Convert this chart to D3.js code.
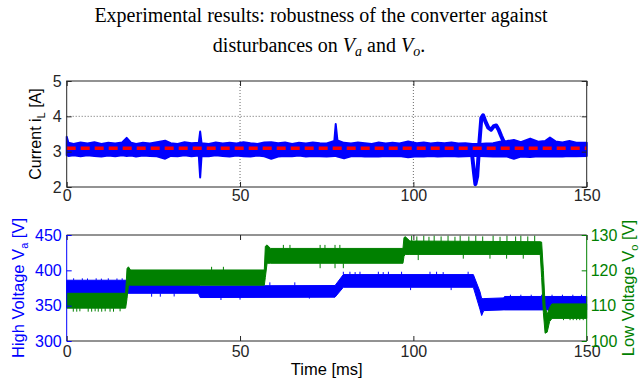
<!DOCTYPE html>
<html>
<head>
<meta charset="utf-8">
<script src="https://cdn.jsdelivr.net/npm/d3@7"></script>
<style>
  body { margin: 0; background: #fff; }
  text { font-family: "Liberation Sans", Arial, sans-serif; }
</style>
</head>
<body>
<svg id="chart" width="639" height="381"></svg>
<script>
// tick values
const timeTicks = [0, 50, 100, 150];
const currentTicks = [2, 3, 4, 5];
const highTicks = [300, 350, 400, 450];
const lowTicks = [100, 110, 120, 130];

// reference current [A]
const iRef = 3.1;

// inductor current envelope: [t ms, min A, max A]
const currentBand = [
  [0, 2.9, 3.42], [0.5, 2.88, 3.25], [2, 2.9, 3.22], [4, 2.87, 3.26], [6, 2.9, 3.23],
  [8, 2.88, 3.27], [10, 2.86, 3.22], [12, 2.89, 3.25], [14, 2.87, 3.23], [16, 2.9, 3.26],
  [17.3, 2.88, 3.39], [18.6, 2.89, 3.25], [20, 2.86, 3.22], [22, 2.89, 3.25], [24, 2.88, 3.23],
  [26, 2.87, 3.27], [28.4, 2.8, 3.31], [30, 2.88, 3.24], [32, 2.87, 3.22], [34, 2.9, 3.27],
  [36, 2.87, 3.24], [38.1, 2.89, 3.25], [38.5, 2.27, 3.57], [38.9, 2.88, 3.24], [41, 2.87, 3.22],
  [43, 2.9, 3.26], [45, 2.88, 3.23], [47, 2.86, 3.25], [49, 2.89, 3.23], [51, 2.87, 3.27],
  [53, 2.86, 3.24], [55, 2.89, 3.22], [57, 2.87, 3.26], [59, 2.8, 3.27], [61, 2.86, 3.24],
  [63, 2.88, 3.26], [65, 2.87, 3.22], [67, 2.89, 3.25], [69, 2.86, 3.23], [71, 2.88, 3.26],
  [73, 2.87, 3.24], [75, 2.86, 3.23], [77.2, 2.88, 3.3], [77.6, 2.88, 3.78], [78.1, 2.86, 3.32],
  [80, 2.81, 3.25], [82, 2.87, 3.23], [84, 2.88, 3.26], [86, 2.86, 3.24], [88, 2.87, 3.22],
  [90, 2.86, 3.26], [92, 2.88, 3.23], [94, 2.87, 3.25], [96, 2.88, 3.23], [98.5, 2.84, 3.29],
  [101, 2.87, 3.24], [103, 2.86, 3.26], [105, 2.88, 3.23], [107, 2.86, 3.25], [109, 2.87, 3.24],
  [111, 2.88, 3.26], [113, 2.86, 3.23], [115, 2.87, 3.24], [117, 2.88, 3.22], [119, 2.88, 3.22],
  [121, 2.87, 3.23], [123, 2.86, 3.24], [125, 2.87, 3.28], [127, 2.86, 3.3], [129, 2.8, 3.33],
  [131, 2.86, 3.27], [133.7, 2.85, 3.37], [136, 2.87, 3.28], [138, 2.86, 3.3], [139.4, 2.86, 3.4],
  [141, 2.87, 3.29], [143, 2.86, 3.26], [145, 2.88, 3.3], [147, 2.87, 3.25], [150, 2.88, 3.25]
];

// load step transient of the current: [t ms, A]
const currentTransient = [
  [116.8, 3.05], [117.5, 2.4], [117.9, 2.08], [118.4, 2.3], [119.0, 3.2], [119.6, 3.95],
  [120.1, 4.03], [120.8, 3.85], [121.6, 3.68], [122.4, 3.62], [123.2, 3.72], [123.9, 3.74],
  [124.6, 3.62], [125.3, 3.45], [126.2, 3.25]
];

// high voltage Va envelope: [t ms, min V, max V]
const highBand = [
  [0, 367.5, 386], [17.2, 367.5, 386], [17.6, 367.5, 380], [38, 367.5, 379],
  [38.5, 361.5, 378], [77.4, 362, 378.5], [79.8, 376, 394], [117.3, 376, 394],
  [119.2, 345, 370], [119.7, 336, 360], [120.3, 343, 360], [126, 344, 361],
  [126.3, 344, 363], [150, 344, 363]
];
// isolated spikes on Va: [t ms, from V, to V]
const highSpikes = [
  [2, 386, 388.7], [4.5, 386, 388.7], [6, 386, 388.5], [8.5, 386, 388.7], [10, 386, 388.3],
  [12, 386, 388.7], [14.5, 386, 388.5], [16, 386, 388.7],
  [24.5, 367.5, 362.7], [27, 367.5, 362.7], [31, 367.5, 363],
  [44.5, 362, 358], [50, 362, 358.5], [58.6, 378.5, 383], [65.8, 378.5, 383], [70, 362, 360],
  [79.8, 394, 398], [81.7, 394, 398], [83.2, 394, 397.5], [84.6, 394, 398], [89.9, 394, 398],
  [91.3, 394, 397.5], [92.8, 394, 398], [96.6, 394, 398], [104.8, 394, 398], [106.7, 394, 398],
  [108.6, 394, 397.5], [115.8, 394, 398], [99.2, 376, 372], [110.9, 376, 372],
  [128, 363, 365.5], [131, 363, 365.5], [134, 363, 365.5], [137, 363, 365.5],
  [140, 363, 365.5], [143, 363, 365.5], [146, 363, 365.5], [148.5, 363, 365.5]
];

// low voltage Vo envelope: [t ms, min V, max V]
const lowBand = [
  [0, 109.3, 113.5], [17.0, 109.3, 113.5], [17.4, 112, 120.5], [17.8, 115.8, 121.0],
  [18.4, 115.8, 120.1], [57.0, 115.8, 120.1], [57.3, 118, 126.8], [57.8, 122, 127.2],
  [58.8, 122, 126.2], [97.0, 122, 126.2], [97.3, 124, 129.3], [97.7, 124.5, 129.5],
  [99, 124.5, 128.3], [136.6, 124.5, 128.1], [137.0, 118, 128], [137.5, 108, 120],
  [138.0, 102.2, 110], [138.6, 102.5, 107.5], [139.3, 105.5, 109.5], [140.0, 106.4, 110.5],
  [150, 106.4, 110.5]
];
// isolated spikes on Vo: [t ms, from V, to V]
const lowSpikes = [
  [1.9, 109.3, 108.3], [2.9, 109.3, 108.3], [3.8, 109.3, 108.4], [6.2, 109.3, 108.3],
  [7.2, 109.3, 108.3], [8.2, 109.3, 108.4], [9.1, 109.3, 108.3], [10.1, 109.3, 108.3],
  [11.1, 109.3, 108.4], [12.5, 109.3, 108.3], [13.5, 109.3, 108.3], [15.4, 109.3, 108.4],
  [41.8, 120.1, 121], [45.2, 120.1, 121],
  [62.5, 126.2, 127.2], [64.4, 126.2, 127.2], [73.1, 126.2, 127.2], [74.5, 126.2, 127.2],
  [77.4, 126.2, 127.2], [78.8, 126.2, 127.2], [73.1, 122, 120.6], [77.4, 122, 120.6],
  [79.8, 122, 120.6],
  [99.5, 128.1, 129.8], [101, 128.1, 129.6], [103, 128.1, 129.8], [104.5, 128.1, 129.5],
  [106, 128.1, 129.8], [108, 128.1, 129.6], [110, 128.1, 129.8], [112, 128.1, 129.5],
  [113.5, 128.1, 129.8], [116, 128.1, 129.6], [118, 128.1, 129.8], [120, 128.1, 129.6],
  [123, 128.1, 129.8], [125, 128.1, 129.5], [127, 128.1, 129.8], [129.5, 128.1, 129.6],
  [131, 128.1, 129.8], [133, 128.1, 129.6], [135, 128.1, 129.8],
  [101.4, 124.5, 122.9], [114.4, 124.5, 123.3], [122.1, 124.5, 123.3], [126.9, 124.5, 123.3],
  [131.7, 124.5, 123.3],
  [143.3, 106.4, 105.9], [145.2, 106.4, 105.9], [146.1, 106.4, 105.9], [147.1, 106.4, 105.9],
  [148, 106.4, 105.9], [149, 106.4, 105.9]
];

const blue = '#0000ff';
const green = '#008000';
const red = '#ff0000';
const axisColor = '#262626';

const left = 66.7;
const right = 586.7;
const top1 = 81, bottom1 = 187;
const top2 = 235, bottom2 = 341;

const svg = d3.select('#chart');

const x = d3.scaleLinear().domain([0, 150]).range([left, right]);
const yCur = d3.scaleLinear().domain([2, 5]).range([bottom1, top1]);
const yHigh = d3.scaleLinear().domain([300, 450]).range([bottom2, top2]);
const yLow = d3.scaleLinear().domain([100, 130]).range([bottom2, top2]);
const fmt = d3.format('d');

// title
const title = svg.append('g')
  .attr('font-size', 20)
  .attr('fill', '#000')
  .attr('text-anchor', 'middle');
title.append('text')
  .style('font-family', '"Liberation Serif", "Times New Roman", serif')
  .attr('x', 321).attr('y', 22)
  .text('Experimental results: robustness of the converter against');
const t2 = title.append('text')
  .style('font-family', '"Liberation Serif", "Times New Roman", serif')
  .attr('x', 319).attr('y', 52);
t2.append('tspan').text('disturbances on ');
t2.append('tspan').attr('font-style', 'italic').text('V');
t2.append('tspan').attr('font-style', 'italic').attr('font-size', 14).attr('dy', 4).text('a');
t2.append('tspan').attr('dy', -4).text(' and ');
t2.append('tspan').attr('font-style', 'italic').text('V');
t2.append('tspan').attr('font-style', 'italic').attr('font-size', 14).attr('dy', 4).text('o');
t2.append('tspan').attr('dy', -4).text('.');

function styleAxis(g, color) {
  g.select('.domain').remove();
  g.selectAll('.tick line').attr('stroke', color);
  g.selectAll('.tick text').attr('fill', color).attr('font-size', 16)
    .style('font-family', '"Liberation Sans", Arial, sans-serif');
}

// ---------- top panel: current ----------
const p1 = svg.append('g');

// grid
p1.append('g').selectAll('line')
  .data([50, 100])
  .enter().append('line')
  .attr('x1', (d) => x(d)).attr('x2', (d) => x(d))
  .attr('y1', top1).attr('y2', bottom1)
  .attr('stroke', '#444').attr('stroke-width', 0.8).attr('stroke-dasharray', '1,2');
p1.append('g').selectAll('line')
  .data([3, 4])
  .enter().append('line')
  .attr('x1', left).attr('x2', right)
  .attr('y1', (d) => yCur(d)).attr('y2', (d) => yCur(d))
  .attr('stroke', '#444').attr('stroke-width', 0.8).attr('stroke-dasharray', '1,2');

const bandCur = d3.area()
  .x((d) => x(d[0]))
  .y0((d) => yCur(d[1]))
  .y1((d) => yCur(d[2]));
p1.append('path')
  .datum(currentBand)
  .attr('d', bandCur)
  .attr('fill', blue)
  .attr('stroke', blue)
  .attr('stroke-width', 2)
  .attr('stroke-linejoin', 'round');
p1.append('path')
  .datum(currentTransient)
  .attr('d', d3.line().x((d) => x(d[0])).y((d) => yCur(d[1])))
  .attr('fill', 'none')
  .attr('stroke', blue)
  .attr('stroke-width', 4)
  .attr('stroke-linejoin', 'round');

p1.append('line')
  .attr('x1', x(0)).attr('x2', x(150))
  .attr('y1', yCur(iRef)).attr('y2', yCur(iRef))
  .attr('stroke', red).attr('stroke-width', 3.5).attr('stroke-dasharray', '9,5');

p1.append('rect')
  .attr('x', left).attr('y', top1)
  .attr('width', right - left).attr('height', bottom1 - top1)
  .attr('fill', 'none').attr('stroke', axisColor).attr('stroke-width', 1);

p1.append('g')
  .attr('transform', 'translate(0,' + bottom1 + ')')
  .call(d3.axisBottom(x).tickValues(timeTicks).tickFormat(fmt).tickSize(-5).tickPadding(3))
  .call((g) => styleAxis(g, axisColor));
p1.append('g')
  .attr('transform', 'translate(0,' + top1 + ')')
  .call(d3.axisTop(x).tickValues(timeTicks).tickSize(-5).tickFormat(''))
  .call((g) => styleAxis(g, axisColor));
p1.append('g')
  .attr('transform', 'translate(' + left + ',0)')
  .call(d3.axisLeft(yCur).tickValues(currentTicks).tickFormat(fmt).tickSize(-5).tickPadding(5))
  .call((g) => styleAxis(g, axisColor));
p1.append('g')
  .attr('transform', 'translate(' + right + ',0)')
  .call(d3.axisRight(yCur).tickValues(currentTicks).tickSize(-5).tickFormat(''))
  .call((g) => styleAxis(g, axisColor));

const lab1 = p1.append('text')
  .attr('transform', 'translate(41,' + ((top1 + bottom1) / 2) + ') rotate(-90)')
  .attr('text-anchor', 'middle')
  .attr('font-size', 16)
  .attr('fill', '#000');
lab1.append('tspan').text('Current  i');
lab1.append('tspan').attr('font-size', 11).attr('dy', 4).text('L');
lab1.append('tspan').attr('dy', -4).text(' [A]');

// ---------- bottom panel: voltages ----------
const p2 = svg.append('g');

p2.append('path')
  .datum(highBand)
  .attr('d', d3.area().x((d) => x(d[0])).y0((d) => yHigh(d[1])).y1((d) => yHigh(d[2])))
  .attr('fill', blue).attr('stroke', blue).attr('stroke-width', 1);
p2.append('g').selectAll('line')
  .data(highSpikes)
  .enter().append('line')
  .attr('x1', (d) => x(d[0])).attr('x2', (d) => x(d[0]))
  .attr('y1', (d) => yHigh(d[1])).attr('y2', (d) => yHigh(d[2]))
  .attr('stroke', blue).attr('stroke-width', 1);

p2.append('path')
  .datum(lowBand)
  .attr('d', d3.area().x((d) => x(d[0])).y0((d) => yLow(d[1])).y1((d) => yLow(d[2])))
  .attr('fill', green).attr('stroke', green).attr('stroke-width', 1);
p2.append('g').selectAll('line')
  .data(lowSpikes)
  .enter().append('line')
  .attr('x1', (d) => x(d[0])).attr('x2', (d) => x(d[0]))
  .attr('y1', (d) => yLow(d[1])).attr('y2', (d) => yLow(d[2]))
  .attr('stroke', green).attr('stroke-width', 1);

// frame: top and bottom black, left blue, right green
p2.append('line').attr('x1', left).attr('x2', right).attr('y1', top2).attr('y2', top2)
  .attr('stroke', axisColor);
p2.append('line').attr('x1', left).attr('x2', right).attr('y1', bottom2).attr('y2', bottom2)
  .attr('stroke', axisColor);
p2.append('line').attr('x1', left).attr('x2', left).attr('y1', top2).attr('y2', bottom2)
  .attr('stroke', blue);
p2.append('line').attr('x1', right).attr('x2', right).attr('y1', top2).attr('y2', bottom2)
  .attr('stroke', green);

p2.append('g')
  .attr('transform', 'translate(0,' + bottom2 + ')')
  .call(d3.axisBottom(x).tickValues(timeTicks).tickFormat(fmt).tickSize(-5).tickPadding(5))
  .call((g) => styleAxis(g, axisColor));
p2.append('g')
  .attr('transform', 'translate(0,' + top2 + ')')
  .call(d3.axisTop(x).tickValues(timeTicks).tickSize(-5).tickFormat(''))
  .call((g) => styleAxis(g, axisColor));
p2.append('g')
  .attr('transform', 'translate(' + left + ',0)')
  .call(d3.axisLeft(yHigh).tickValues(highTicks).tickFormat(fmt).tickSize(-5).tickPadding(5))
  .call((g) => styleAxis(g, blue));
p2.append('g')
  .attr('transform', 'translate(' + right + ',0)')
  .call(d3.axisRight(yLow).tickValues(lowTicks).tickFormat(fmt).tickSize(-5).tickPadding(4))
  .call((g) => styleAxis(g, green));

const lab2 = p2.append('text')
  .attr('transform', 'translate(24,' + ((top2 + bottom2) / 2) + ') rotate(-90)')
  .attr('text-anchor', 'middle')
  .attr('font-size', 16.5)
  .attr('fill', blue);
lab2.append('tspan').text('High Voltage V');
lab2.append('tspan').attr('font-size', 11).attr('dy', 4).text('a');
lab2.append('tspan').attr('dy', -4).text(' [V]');

const lab3 = p2.append('text')
  .attr('transform', 'translate(634,' + ((top2 + bottom2) / 2) + ') rotate(-90)')
  .attr('text-anchor', 'middle')
  .attr('font-size', 16.5)
  .attr('fill', green);
lab3.append('tspan').text('Low Voltage V');
lab3.append('tspan').attr('font-size', 11).attr('dy', 4).text('o');
lab3.append('tspan').attr('dy', -4).text(' [V]');

p2.append('text')
  .attr('x', (left + right) / 2).attr('y', 375)
  .attr('text-anchor', 'middle')
  .attr('font-size', 16.5)
  .attr('fill', '#000')
  .text('Time [ms]');
</script>
</body>
</html>
